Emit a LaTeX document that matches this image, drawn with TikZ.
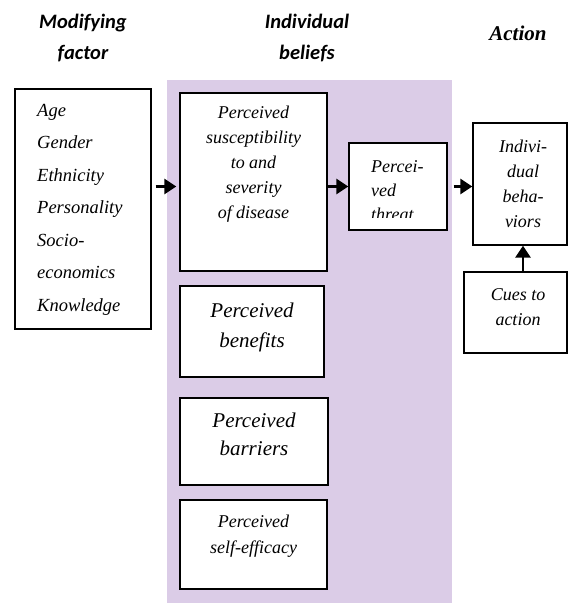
\documentclass[tikz,border=0pt]{standalone}
\usepackage{fontspec}
\setmainfont{Liberation Serif}
\newfontfamily\headfont{Carlito}
\usetikzlibrary{arrows.meta}
\definecolor{lilac}{RGB}{219,204,231}
\begin{document}
\begin{tikzpicture}[x=1pt,y=-1pt]
  \tikzstyle{box}=[draw,line width=1.4pt,fill=white,inner sep=0pt]
  \tikzstyle{txt}=[inner sep=0pt,font=\itshape\fontsize{18}{25}\selectfont,align=center,anchor=north]
  \tikzstyle{head}=[inner sep=0pt,font=\headfont\bfseries\itshape\fontsize{20.5}{31}\selectfont,align=center]
  \tikzstyle{arr}=[line width=2.8pt,-{Triangle[length=12pt,width=15pt]}]
 \useasboundingbox (0,0) rectangle (568,603);
 \fill[lilac] (167,80) rectangle (452,603);

 \node[head] (h1) at (83,38) {Modifying\\factor};
 \node[head] (h2) at (307,38) {Individual\\beliefs};
 \node[inner sep=0pt,font=\bfseries\itshape\fontsize{21}{25}\selectfont] (h3) at (518,33) {Action};

 \node[box,minimum width=136,minimum height=240] (mod) at (83,209) {};
 \node[box,minimum width=147,minimum height=178] (susc) at (253.5,182) {};
 \node[box,minimum width=98,minimum height=87] (threat) at (398,186.5) {};
 \node[box,minimum width=94,minimum height=122] (beh) at (520,184) {};
 \node[box,minimum width=103,minimum height=81] (cues) at (515.5,312.5) {};
 \node[box,minimum width=144,minimum height=91] (ben) at (252,331.5) {};
 \node[box,minimum width=148,minimum height=87] (bar) at (254,441.5) {};
 \node[box,minimum width=147,minimum height=89] (eff) at (253.5,544.5) {};

 \node[txt,align=left,anchor=north west,font=\itshape\fontsize{18.5}{32.5}\selectfont] (mod-t) at (37,104)
   {Age\\Gender\\Ethnicity\\Personality\\Socio-\\economics\\Knowledge};
 \node[txt] (susc-t) at (253.5,106) {Perceived\\susceptibility\\to and\\severity\\of disease};
 \begin{scope}
  \clip (threat.north west) rectangle (447,217);
  \node[txt,align=left,anchor=north west,font=\itshape\fontsize{18}{24}\selectfont] (threat-t) at (371,160) {Percei-\\ved\\threat};
 \end{scope}
 \node[txt] (beh-t) at (523,140) {Indivi-\\dual\\beha-\\viors};
 \node[txt] (cues-t) at (518,288) {Cues to\\action};
 \node[txt,font=\itshape\fontsize{21}{30}\selectfont] (ben-t) at (252,303) {Perceived\\benefits};
 \node[txt,font=\itshape\fontsize{21}{28}\selectfont] (bar-t) at (254,413) {Perceived\\barriers};
 \node[txt,font=\itshape\fontsize{18}{26}\selectfont] (eff-t) at (253.5,515) {Perceived\\self-efficacy};

 \draw [arr,shorten <=4pt,shorten >=3pt] (mod.east |- threat.west) -- (susc.west |- threat.west);
 \draw [arr] (susc.east |- threat.west) -- (threat.west);
 \draw [arr,shorten <=6pt] (threat.east) -- (beh.west |- threat.east);
 \draw [arr] (cues.north -| 523,0) -- (beh.south -| 523,0);

\end{tikzpicture}
\end{document}
